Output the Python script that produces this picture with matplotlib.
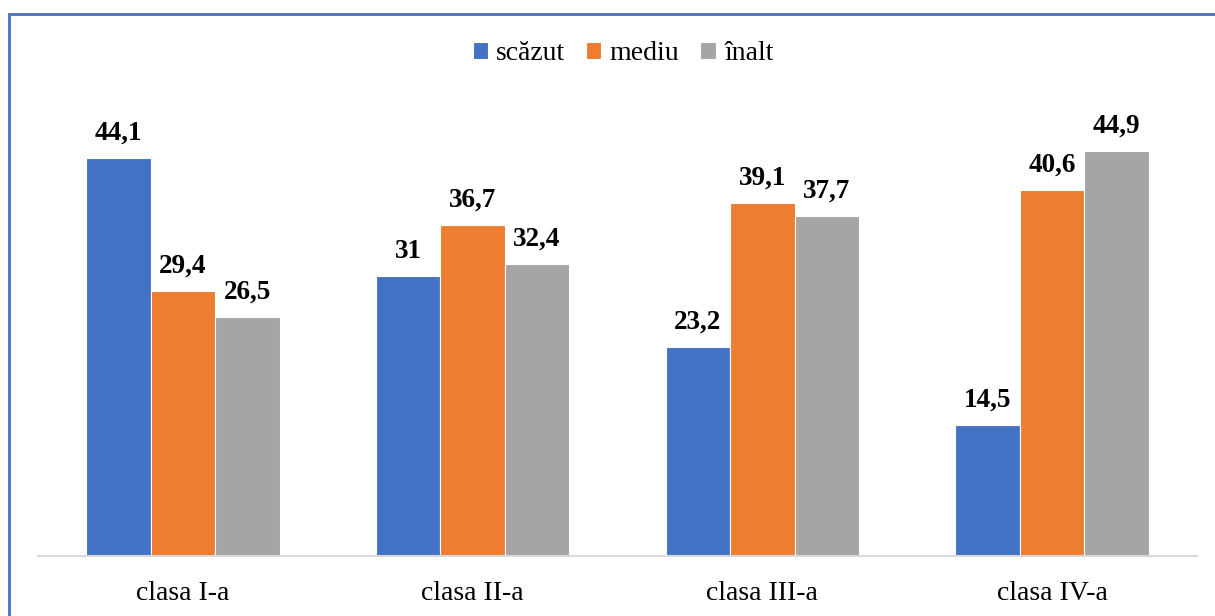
import matplotlib
matplotlib.use("Agg")
import matplotlib.pyplot as plt
from matplotlib.patches import Rectangle
import numpy as np

categories = ["clasa I-a", "clasa II-a", "clasa III-a", "clasa IV-a"]
series_names = ["scăzut", "mediu", "înalt"]
scazut = [44.1, 31, 23.2, 14.5]
mediu = [29.4, 36.7, 39.1, 40.6]
inalt = [26.5, 32.4, 37.7, 44.9]
colors = ["#4472C4", "#ED7D31", "#A5A5A5"]

plt.rcParams['font.family'] = ['Liberation Serif', 'DejaVu Serif']

fig = plt.figure(figsize=(12.15, 6.16), dpi=100)
ax = fig.add_axes([38/1215, 60/616, (1197-38)/1215, (556-105)/616])

x = np.arange(len(categories))
w = 0.2226
data = [scazut, mediu, inalt]
for i, (vals, name, c) in enumerate(zip(data, series_names, colors)):
    bars = ax.bar(x + (i-1)*w, vals, w, color=c, label=name, edgecolor='white', linewidth=0.8)
    labels = [f"{v:g}".replace('.', ',') for v in vals]
    ax.bar_label(bars, labels=labels, padding=9, fontsize=19.5, fontweight='bold')

ax.set_xlim(-0.5, len(categories)-0.5)
ax.set_ylim(0, 50)
ax.set_yticks([])
ax.set_xticks(x)
ax.set_xticklabels(categories, fontsize=20)
ax.tick_params(axis='x', length=0, pad=18)
for s in ['top', 'right', 'left']:
    ax.spines[s].set_visible(False)
ax.spines['bottom'].set_color('#D9D9D9')
ax.spines['bottom'].set_linewidth(1.5)

leg = fig.legend(loc='center', bbox_to_anchor=(623/1215, 1-54/616), ncol=3, frameon=False,
                 fontsize=20, handlelength=0.55, handleheight=0.55, handletextpad=0.3,
                 columnspacing=0.75)

fig.patches.append(Rectangle((9/1215, -0.1), 1.2, (616-14)/616 + 0.1, transform=fig.transFigure,
                             fill=False, edgecolor='#4472C4', linewidth=2, zorder=10))

fig.savefig("out.png", dpi=100)
